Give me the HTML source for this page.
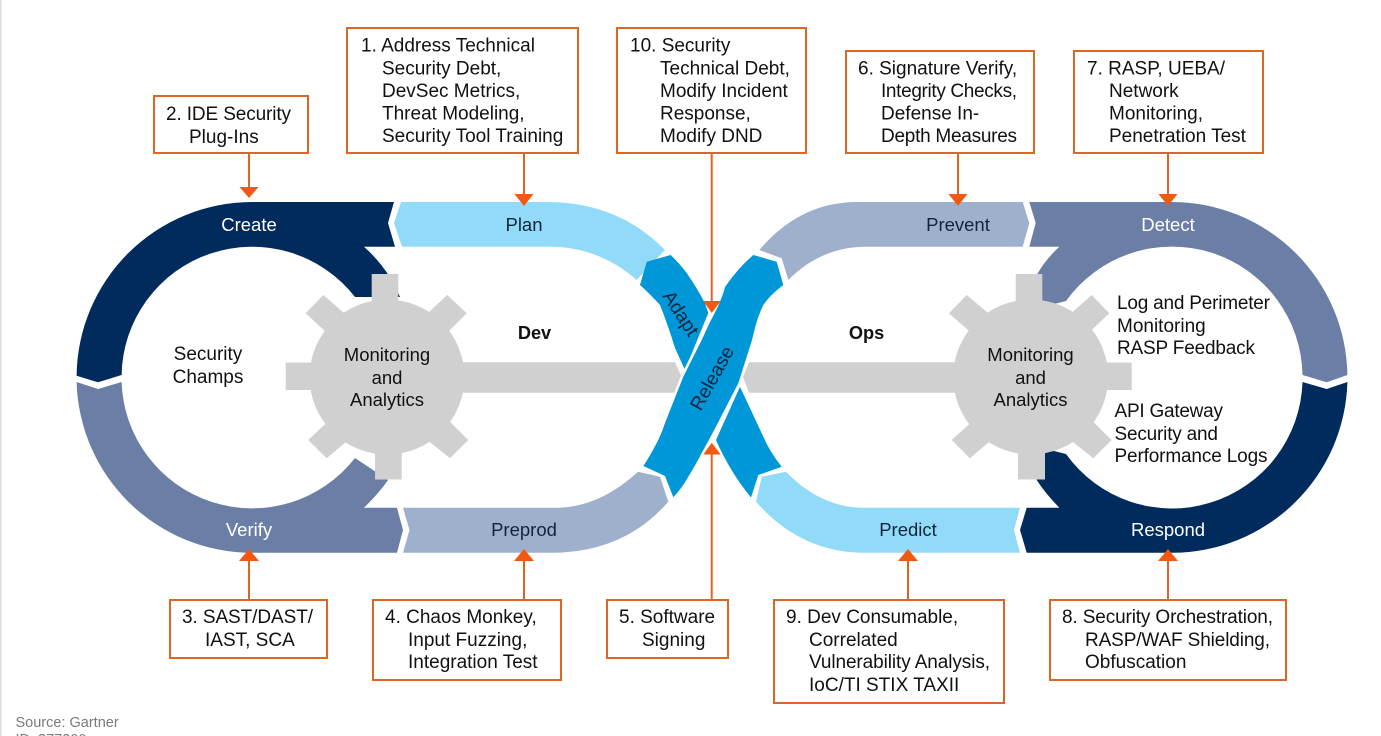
<!DOCTYPE html>
<html><head><meta charset="utf-8"><style>
html,body{margin:0;padding:0;background:#fff;width:1381px;height:736px;overflow:hidden}
svg{display:block}
text{font-family:"Liberation Sans",Arial,sans-serif;font-size:19px;fill:#111}
.m{text-anchor:middle}
.w{fill:#fff}
.d{fill:#14233c}
.s{font-size:18.5px}
.b{fill:#fff;stroke:#dc6626;stroke-width:2}
.l{stroke:#dc6626;stroke-width:2;fill:none}
.h{fill:#f0590f}
</style></head><body>
<svg width="1381" height="736" viewBox="0 0 1381 736" xmlns="http://www.w3.org/2000/svg">
<rect x="0" y="0" width="1.5" height="736" fill="#dcdcdc"/>

<!-- bands -->
<path fill="#002b5c" d="M76.6,375.7 L98,382.3 L121.6,375 A130.5,130.5 0 0 1 355,297 L400,297 Q388,268 364,246.8 L395,246.8 L388,223 L394,202 L252,202 A175.5,175.5 0 0 0 76.6,375.7 Z"/>
<path fill="#6b7fa6" d="M76.6,382 L98,389 L121.6,382 A130.5,130.5 0 0 0 355,458 L388,480 Q380,492 364,507.8 L397,507.8 L403,530 L397,552.8 L252,552.8 A175.5,175.5 0 0 1 76.6,382 Z"/>
<path fill="#91dbf8" d="M401,202 L394,223 L402,246.8 L553,246.8 Q600,248 636.7,280 L665,250 Q618,202 547,202 Z"/>
<path fill="#9fb0cc" d="M403,507.8 L409.5,530 L403,552.8 L553,552.8 Q625,552 668.3,501.7 L660,476.7 L638,471.7 Q600,507 557,507.8 Z"/>
<path fill="#9fb0cc" d="M759.3,250 Q800,202 857,202 L1022.7,202 L1029.3,223 L1022.7,246.8 L863,246.8 Q820,248 788.3,280 L781.7,258.3 Z"/>
<path fill="#91dbf8" d="M1020,507.8 L1014,530 L1020,552.8 L863,552.8 Q800,552 756,501.7 L761.7,476.7 L786,471.7 Q820,507 863,507.8 Z"/>
<path fill="#6b7fa6" d="M1029.3,202 L1035.7,223 L1029.3,246.8 L1059.3,246.8 Q1045,260 1036.7,275 L1030,310 L1066,301 A130.5,130.5 0 0 1 1302.5,375 L1326.7,382.3 L1347.4,375 A175.5,175.5 0 0 0 1172,202 Z"/>
<path fill="#002b5c" d="M1347.4,382 L1326.7,389 L1302.5,382 A130.5,130.5 0 0 1 1066,454 L1030,445 L1036.7,480 Q1045,493 1059.3,507.8 L1026.7,507.8 L1020,530 L1026.7,552.8 L1172,552.8 A175.5,175.5 0 0 0 1347.4,382 Z"/>

<!-- gears -->
<g fill="#d0d0d0">
<circle cx="387" cy="377" r="77.5"/>
<rect x="371.7" y="274" width="26.6" height="40"/>
<rect x="375" y="440" width="26.7" height="39.5"/>
<rect x="285.7" y="362.5" width="50" height="27.5"/>
<path d="M430,362.3 L675,362.3 L681.7,377 L675,392.7 L430,392.7 Z"/>
<path d="M323.3,295 L305.7,313.3 L340,345 L358,325 Z"/>
<path d="M447.3,295 L466.7,313.3 L435,345 L415,325 Z"/>
<path d="M308.3,440 L326.7,458.3 L360,430 L340,410 Z"/>
<path d="M468.3,440 L450,458.3 L415,430 L435,407 Z"/>
<circle cx="1030.7" cy="377" r="77.5"/>
<rect x="1015.7" y="274" width="26.6" height="40"/>
<rect x="1018" y="440" width="27" height="39.5"/>
<rect x="1080" y="362.5" width="51.7" height="27.5"/>
<path d="M749,362.3 L985,362.3 L985,392.7 L749,392.7 L743,377 Z"/>
<path d="M966.7,295 L949,313.3 L985,345 L1002,325 Z"/>
<path d="M1091.7,295 L1109.3,313.3 L1076,345 L1058,325 Z"/>
<path d="M951.7,440 L970,458.3 L1003,430 L985,410 Z"/>
<path d="M1111.7,440 L1093.3,458.3 L1058,430 L1078,407 Z"/>
</g>

<!-- crossing strand under Release -->
<path fill="#0097d8" d="M646.7,261.7 L670.7,255 Q680,264 686.7,273 Q697,288 705,303.3 L708.3,313 L685,370 L675,348 Q668,325 660,305 Q650,294 640,285 Z"/>
<path fill="#0097d8" d="M740,386.7 L763.3,436.7 Q770,452 781.7,466.7 L758.3,475 L751,497.5 Q730,472 716,440 Z"/>

<!-- connectors -->
<path class="l" d="M249,153V190M524,153V196M958,153V196M1168,153V196M711.7,153V302M711.7,600V453M249,600V558M524,600V558M908,600V558M1168,600V558"/>
<path class="h" d="M239.5,187 H258.5 L249,198 Z M514.5,194 H533.5 L524,206 Z M948.5,194 H967.5 L958,206 Z M1158.5,194 H1177.5 L1168,206 Z M239,561 H259 L249,549 Z M514,561 H534 L524,549 Z M898,561 H918 L908,549 Z M1158,561 H1178 L1168,549 Z"/>

<!-- Release -->
<path fill="#0097d8" stroke="#fff" stroke-width="5" style="paint-order:stroke" d="M753.3,255 L776.7,261.7 L783.3,285 Q770,295 763.3,305 Q758,316 755,328 L752,340 L738.3,383.3 L713.3,431.7 L701.7,453 Q695,466 688.3,476.7 Q682,488 673.3,497.3 L665,476 L643.3,466 Q650,456 656.7,443 Q661,435 665,423 L683.3,376.7 L701.7,340 L710,322 Q722,300 725,287 Q738,268 753.3,255 Z"/>
<path class="h" d="M703.3,301 H720.7 L711.7,313 Z M703.3,454.5 H720.7 L711.7,442.7 Z"/>

<!-- boxes -->
<rect class="b" x="154" y="96" width="154" height="57"/>
<rect class="b" x="347" y="28" width="231" height="125"/>
<rect class="b" x="617" y="28" width="189" height="125"/>
<rect class="b" x="846" y="51" width="188" height="102"/>
<rect class="b" x="1074" y="51" width="189" height="102"/>
<rect class="b" x="170" y="600" width="157" height="58"/>
<rect class="b" x="373" y="600" width="188" height="80"/>
<rect class="b" x="607" y="600" width="121" height="58"/>
<rect class="b" x="774" y="600" width="230" height="103"/>
<rect class="b" x="1050" y="600" width="236" height="80"/>

<!-- box text -->
<text x="166" y="120" textLength="125">2. IDE Security</text><text x="189" y="143">Plug-Ins</text>
<text x="361" y="51.5">1. Address Technical</text><text x="382" y="74.5">Security Debt,</text><text x="382" y="97">DevSec Metrics,</text><text x="382" y="119.5">Threat Modeling,</text><text x="382" y="142">Security Tool Training</text>
<text x="630" y="51.5">10. Security</text><text x="660" y="74.5">Technical Debt,</text><text x="660" y="97">Modify Incident</text><text x="660" y="119.5">Response,</text><text x="660" y="142">Modify DND</text>
<text x="858" y="74.5">6. Signature Verify,</text><text x="881" y="97" textLength="136">Integrity Checks,</text><text x="881" y="119.5">Defense In-</text><text x="881" y="142" textLength="136">Depth Measures</text>
<text x="1087" y="74.5">7. RASP, UEBA/</text><text x="1109" y="97">Network</text><text x="1109" y="119.5">Monitoring,</text><text x="1109" y="142">Penetration Test</text>
<text x="182" y="623" textLength="131">3. SAST/DAST/</text><text x="205" y="646">IAST, SCA</text>
<text x="385" y="623">4. Chaos Monkey,</text><text x="408" y="646">Input Fuzzing,</text><text x="408" y="668">Integration Test</text>
<text x="619" y="623">5. Software</text><text x="642" y="646">Signing</text>
<text x="786" y="623">9. Dev Consumable,</text><text x="809" y="646">Correlated</text><text x="809" y="668" textLength="181">Vulnerability Analysis,</text><text x="809" y="691">IoC/TI STIX TAXII</text>
<text x="1062" y="623" textLength="211">8. Security Orchestration,</text><text x="1085" y="646" textLength="185">RASP/WAF Shielding,</text><text x="1085" y="668">Obfuscation</text>

<!-- band labels -->
<text class="m w s" x="249" y="231">Create</text>
<text class="m d s" x="524" y="231">Plan</text>
<text class="m d s" x="958" y="231">Prevent</text>
<text class="m w s" x="1168" y="231">Detect</text>
<text class="m w s" x="249" y="536">Verify</text>
<text class="m d s" x="524" y="536">Preprod</text>
<text class="m d s" x="908" y="536">Predict</text>
<text class="m w s" x="1168" y="536">Respond</text>
<text class="m d" x="0" y="0" transform="translate(680.5,313.5) rotate(57) translate(0,6)">Adapt</text>
<text class="m d" x="0" y="0" transform="translate(712.3,378.3) rotate(-61) translate(0,6)">Release</text>

<!-- inner labels -->
<text class="m" x="208" y="360">Security</text><text class="m" x="208" y="383">Champs</text>
<text class="m s" x="387" y="361">Monitoring</text><text class="m s" x="387" y="384">and</text><text class="m s" x="387" y="406">Analytics</text>
<text class="m s" x="1030.5" y="361">Monitoring</text><text class="m s" x="1030.5" y="384">and</text><text class="m s" x="1030.5" y="406">Analytics</text>
<text class="m" x="534.5" y="339" style="font-weight:bold;font-size:18.2px">Dev</text>
<text class="m" x="866.5" y="339" style="font-weight:bold;font-size:18.2px">Ops</text>
<text x="1117" y="309" textLength="153">Log and Perimeter</text><text x="1117" y="332">Monitoring</text><text x="1117" y="354" textLength="138">RASP Feedback</text>
<text x="1114.5" y="417" textLength="108.5">API Gateway</text><text x="1114.5" y="440" textLength="103.5">Security and</text><text x="1114.5" y="462" textLength="153">Performance Logs</text>

<text x="15.5" y="727" style="font-size:14.5px;fill:#7a7a7a">Source: Gartner</text>
<text x="15.5" y="744" style="font-size:14.5px;fill:#7a7a7a">ID: 377200</text>
</svg>
</body></html>
